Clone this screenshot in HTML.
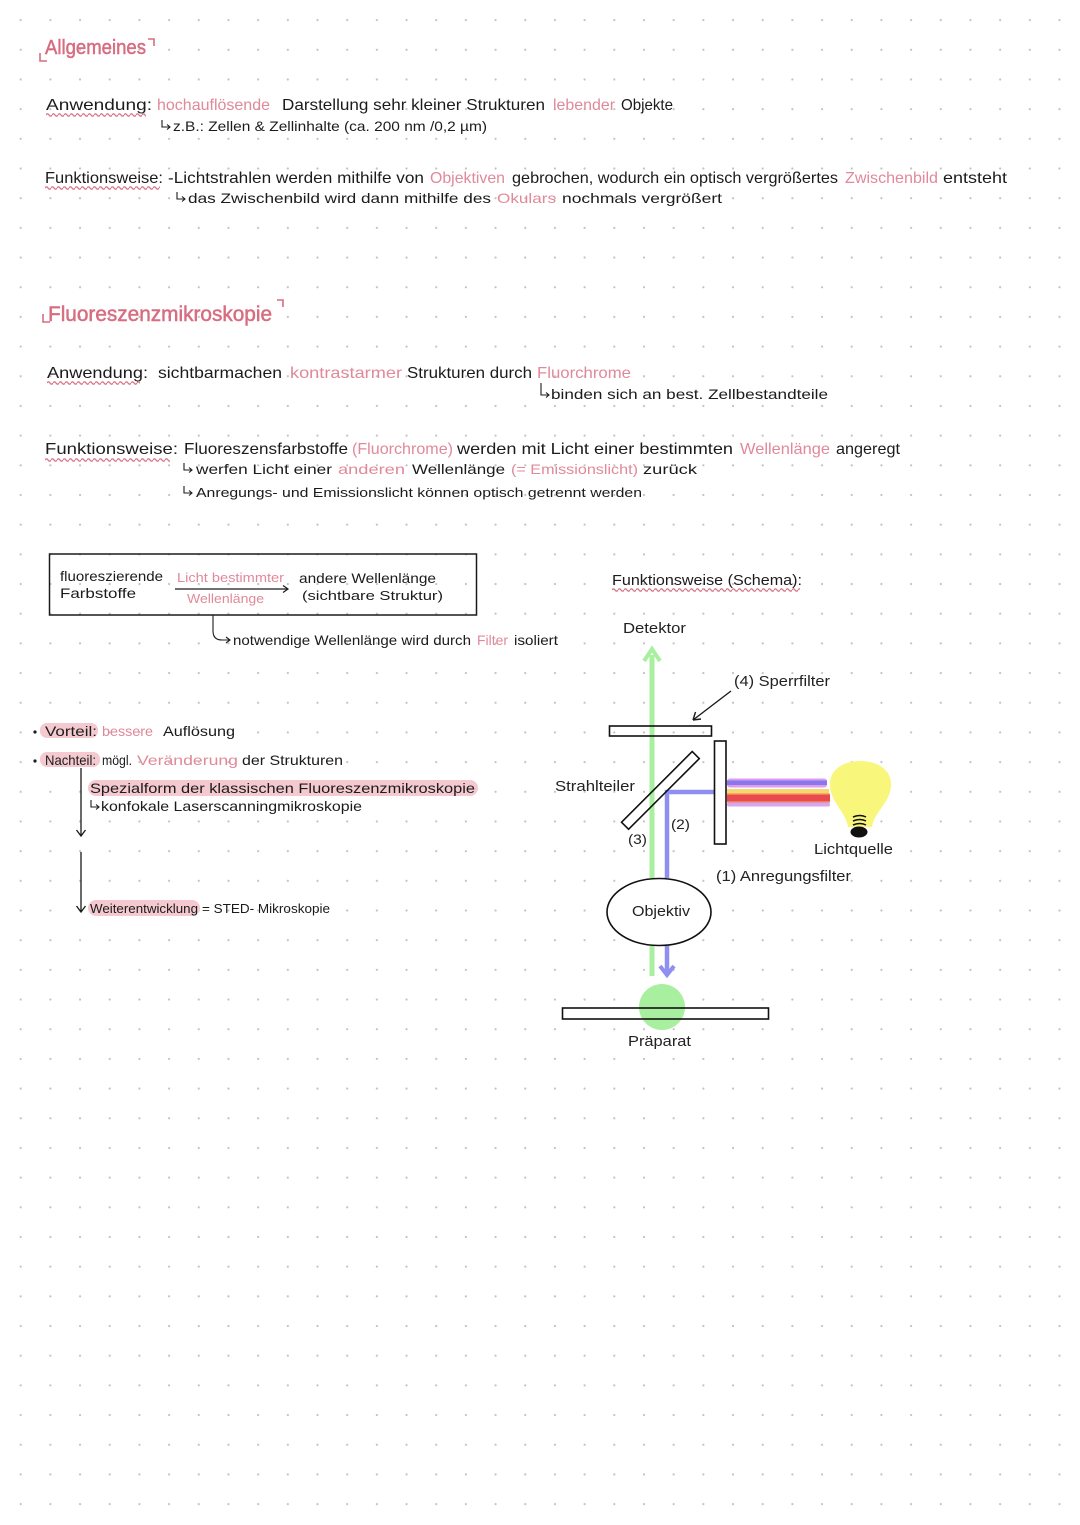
<!DOCTYPE html>
<html><head><meta charset="utf-8"><style>
html,body{margin:0;padding:0;background:#fff;}
svg{display:block;}
text{font-family:"Liberation Sans","DejaVu Sans",sans-serif;fill:#1b1b1b;}
.p{fill:#e0899a;}
.h{fill:#d76d80;stroke:#d76d80;stroke-width:0.5;}
.d{fill:#222;}
</style></head><body>
<svg width="1080" height="1525" viewBox="0 0 1080 1525" xmlns="http://www.w3.org/2000/svg">
<defs>
<pattern id="dots" patternUnits="userSpaceOnUse" x="5.86" y="5.26" width="29.68" height="29.68"><circle cx="14.84" cy="14.84" r="1.1" fill="#c2c2c2"/></pattern>
<pattern id="wave" patternUnits="userSpaceOnUse" x="0" y="0" width="6" height="6"><path d="M0 3 Q1.5 0.6 3 3 T6 3" stroke="#d9788a" stroke-width="1.3" fill="none"/></pattern>
<g id="hook"><path d="M0 0 V7 H8 M5 4.5 L8 7 L5 9.5" stroke="#1b1b1b" stroke-width="1.1" fill="none"/></g>
</defs>
<rect width="1080" height="1525" fill="#fff"/>
<rect width="1080" height="1525" fill="url(#dots)"/>

<!-- Allgemeines -->
<path d="M40 53 V61 H47" stroke="#d76d80" stroke-width="1.6" fill="none"/>
<path d="M148 39 H154 V46" stroke="#d76d80" stroke-width="1.6" fill="none"/>
<text x="45" y="54" font-size="20" class="h" textLength="101" lengthAdjust="spacingAndGlyphs">Allgemeines</text>

<text x="46" y="110" font-size="16" textLength="106" lengthAdjust="spacingAndGlyphs">Anwendung:</text>
<rect x="0" y="0" width="100" height="6" fill="url(#wave)" transform="translate(46,112)"/>
<text x="157" y="110" font-size="16" class="p" textLength="113" lengthAdjust="spacingAndGlyphs">hochauflösende</text>
<text x="282" y="110" font-size="16" textLength="263" lengthAdjust="spacingAndGlyphs">Darstellung sehr kleiner Strukturen</text>
<text x="553" y="110" font-size="16" class="p" textLength="62" lengthAdjust="spacingAndGlyphs">lebender</text>
<text x="621" y="110" font-size="16" textLength="52" lengthAdjust="spacingAndGlyphs">Objekte</text>

<use href="#hook" x="162" y="120"/>
<text x="173" y="131" font-size="14" textLength="314" lengthAdjust="spacingAndGlyphs">z.B.: Zellen &amp; Zellinhalte (ca. 200 nm /0,2 µm)</text>

<text x="45" y="183" font-size="16" textLength="118" lengthAdjust="spacingAndGlyphs">Funktionsweise:</text>
<rect x="0" y="0" width="115" height="6" fill="url(#wave)" transform="translate(45,185)"/>
<text x="168" y="183" font-size="16" textLength="256" lengthAdjust="spacingAndGlyphs">-Lichtstrahlen werden mithilfe von</text>
<text x="430" y="183" font-size="16" class="p" textLength="75" lengthAdjust="spacingAndGlyphs">Objektiven</text>
<text x="512" y="183" font-size="16" textLength="326" lengthAdjust="spacingAndGlyphs">gebrochen, wodurch ein optisch vergrößertes</text>
<text x="845" y="183" font-size="16" class="p" textLength="93" lengthAdjust="spacingAndGlyphs">Zwischenbild</text>
<text x="943" y="183" font-size="16" textLength="64" lengthAdjust="spacingAndGlyphs">entsteht</text>

<use href="#hook" x="177" y="192"/>
<text x="188" y="203" font-size="14" textLength="303" lengthAdjust="spacingAndGlyphs">das Zwischenbild wird dann mithilfe des</text>
<text x="497" y="203" font-size="14" class="p" textLength="59" lengthAdjust="spacingAndGlyphs">Okulars</text>
<text x="562" y="203" font-size="14" textLength="160" lengthAdjust="spacingAndGlyphs">nochmals vergrößert</text>

<!-- Fluoreszenzmikroskopie -->
<path d="M43 314 V322 H50" stroke="#d76d80" stroke-width="1.6" fill="none"/>
<path d="M277 300 H283 V307" stroke="#d76d80" stroke-width="1.6" fill="none"/>
<text x="48" y="321" font-size="21" class="h" textLength="224" lengthAdjust="spacingAndGlyphs">Fluoreszenzmikroskopie</text>

<text x="47" y="378" font-size="16" textLength="101" lengthAdjust="spacingAndGlyphs">Anwendung:</text>
<rect x="0" y="0" width="93" height="6" fill="url(#wave)" transform="translate(47,380)"/>
<text x="158" y="378" font-size="16" textLength="124" lengthAdjust="spacingAndGlyphs">sichtbarmachen</text>
<text x="290" y="378" font-size="16" class="p" textLength="112" lengthAdjust="spacingAndGlyphs">kontrastarmer</text>
<text x="407" y="378" font-size="16" textLength="125" lengthAdjust="spacingAndGlyphs">Strukturen durch</text>
<text x="537" y="378" font-size="16" class="p" textLength="94" lengthAdjust="spacingAndGlyphs">Fluorchrome</text>

<path d="M541 383 V395 H549 M546 392.5 L549 395 L546 397.5" stroke="#1b1b1b" stroke-width="1.1" fill="none"/>
<text x="551" y="399" font-size="14" textLength="277" lengthAdjust="spacingAndGlyphs">binden sich an best. Zellbestandteile</text>

<text x="45" y="454" font-size="16" textLength="133" lengthAdjust="spacingAndGlyphs">Funktionsweise:</text>
<rect x="0" y="0" width="125" height="6" fill="url(#wave)" transform="translate(45,457)"/>
<text x="184" y="454" font-size="16" textLength="164" lengthAdjust="spacingAndGlyphs">Fluoreszensfarbstoffe</text>
<text x="352" y="454" font-size="16" class="p" textLength="101" lengthAdjust="spacingAndGlyphs">(Fluorchrome)</text>
<text x="457" y="454" font-size="16" textLength="276" lengthAdjust="spacingAndGlyphs">werden mit Licht einer bestimmten</text>
<text x="740" y="454" font-size="16" class="p" textLength="90" lengthAdjust="spacingAndGlyphs">Wellenlänge</text>
<text x="836" y="454" font-size="16" textLength="64" lengthAdjust="spacingAndGlyphs">angeregt</text>

<use href="#hook" x="184" y="463"/>
<text x="196" y="474" font-size="14" textLength="136" lengthAdjust="spacingAndGlyphs">werfen Licht einer</text>
<text x="338" y="474" font-size="14" class="p" textLength="67" lengthAdjust="spacingAndGlyphs">anderen</text>
<text x="412" y="474" font-size="14" textLength="93" lengthAdjust="spacingAndGlyphs">Wellenlänge</text>
<text x="511" y="474" font-size="14" class="p" textLength="127" lengthAdjust="spacingAndGlyphs">(= Emissionslicht)</text>
<text x="643" y="474" font-size="14" textLength="54" lengthAdjust="spacingAndGlyphs">zurück</text>

<use href="#hook" x="184" y="486"/>
<text x="196" y="497" font-size="13" textLength="446" lengthAdjust="spacingAndGlyphs">Anregungs- und Emissionslicht können optisch getrennt werden</text>

<!-- Box -->
<rect x="49.5" y="554" width="427" height="61" fill="none" stroke="#1b1b1b" stroke-width="1.5"/>
<text x="60" y="581" font-size="14" textLength="103" lengthAdjust="spacingAndGlyphs">fluoreszierende</text>
<text x="60" y="598" font-size="14" textLength="76" lengthAdjust="spacingAndGlyphs">Farbstoffe</text>
<text x="177" y="582" font-size="13" class="p" textLength="107" lengthAdjust="spacingAndGlyphs">Licht bestimmter</text>
<path d="M175 589 H288 M283 585.5 L288 589 L283 592.5" stroke="#1b1b1b" stroke-width="1.2" fill="none"/>
<text x="187" y="603" font-size="13" class="p" textLength="77" lengthAdjust="spacingAndGlyphs">Wellenlänge</text>
<text x="299" y="583" font-size="14" textLength="137" lengthAdjust="spacingAndGlyphs">andere Wellenlänge</text>
<text x="302" y="600" font-size="13" textLength="141" lengthAdjust="spacingAndGlyphs">(sichtbare Struktur)</text>

<path d="M213 615 V631 Q213 640 222 640 H230 M226 637 L230 640 L226 643" stroke="#1b1b1b" stroke-width="1.1" fill="none"/>
<text x="233" y="645" font-size="14" textLength="238" lengthAdjust="spacingAndGlyphs">notwendige Wellenlänge wird durch</text>
<text x="477" y="645" font-size="14" class="p" textLength="31" lengthAdjust="spacingAndGlyphs">Filter</text>
<text x="514" y="645" font-size="14" textLength="44" lengthAdjust="spacingAndGlyphs">isoliert</text>

<!-- Vorteil / Nachteil -->
<rect x="40" y="723" width="58" height="15" rx="7" fill="#f4c9d0"/>
<rect x="40" y="752" width="60" height="15" rx="7" fill="#f4c9d0"/>
<circle cx="35" cy="732" r="1.6" fill="#1b1b1b"/>
<circle cx="35" cy="761" r="1.6" fill="#1b1b1b"/>
<text x="45" y="736" font-size="14" textLength="52" lengthAdjust="spacingAndGlyphs">Vorteil:</text>
<text x="102" y="736" font-size="14" class="p" textLength="51" lengthAdjust="spacingAndGlyphs">bessere</text>
<text x="163" y="736" font-size="14" textLength="72" lengthAdjust="spacingAndGlyphs">Auflösung</text>
<text x="45" y="765" font-size="14" textLength="51" lengthAdjust="spacingAndGlyphs">Nachteil:</text>
<text x="102" y="765" font-size="14" textLength="30" lengthAdjust="spacingAndGlyphs">mögl.</text>
<text x="137" y="765" font-size="14" class="p" textLength="101" lengthAdjust="spacingAndGlyphs">Veränderung</text>
<text x="242" y="765" font-size="14" textLength="101" lengthAdjust="spacingAndGlyphs">der Strukturen</text>

<path d="M81 768 V836 M76.5 830 L81 836 L85.5 830" stroke="#1b1b1b" stroke-width="1.3" fill="none"/>
<rect x="88" y="780" width="390" height="16" rx="8" fill="#f4c9d0"/>
<text x="90" y="793" font-size="14" textLength="385" lengthAdjust="spacingAndGlyphs">Spezialform der klassischen Fluoreszenzmikroskopie</text>
<use href="#hook" x="91" y="800"/>
<text x="101" y="811" font-size="14" textLength="261" lengthAdjust="spacingAndGlyphs">konfokale Laserscanningmikroskopie</text>

<path d="M81 852 V912 M76.5 906 L81 912 L85.5 906" stroke="#1b1b1b" stroke-width="1.3" fill="none"/>
<rect x="88" y="900" width="112" height="16" rx="8" fill="#f4c9d0"/>
<text x="90" y="913" font-size="13" textLength="108" lengthAdjust="spacingAndGlyphs">Weiterentwicklung</text>
<text x="202" y="913" font-size="13" textLength="128" lengthAdjust="spacingAndGlyphs">= STED- Mikroskopie</text>

<!-- Schema -->
<text x="612" y="585" font-size="15" textLength="190" lengthAdjust="spacingAndGlyphs">Funktionsweise (Schema):</text>
<rect x="0" y="0" width="188" height="6" fill="url(#wave)" transform="translate(612,587)"/>

<text x="623" y="633" font-size="15" class="d" textLength="63" lengthAdjust="spacingAndGlyphs">Detektor</text>
<text x="734" y="686" font-size="15" class="d" textLength="96" lengthAdjust="spacingAndGlyphs">(4) Sperrfilter</text>
<path d="M731 691 L693 720 M693 720 L695.5 712 M693 720 L701 719" stroke="#1b1b1b" stroke-width="1.4" fill="none"/>
<text x="555" y="791" font-size="15" class="d" textLength="80" lengthAdjust="spacingAndGlyphs">Strahlteiler</text>

<!-- beams -->
<rect x="727" y="778.5" width="100" height="9" rx="3" fill="#dc9cf0"/>
<rect x="727" y="780.5" width="100" height="4.5" fill="#8a78ea"/>
<rect x="727" y="789" width="102" height="4.5" fill="#f7d870"/>
<rect x="727" y="793.5" width="103" height="9" fill="#f08050"/>
<rect x="727" y="795" width="103" height="6" fill="#e84a50"/>
<rect x="727" y="802.5" width="103" height="4" rx="2" fill="#d6a6f2"/>

<!-- bulb -->
<path d="M848 827 C846 812 831 803 830 786 C829 770 843 761 860 761 C878 761 892 770 891 786 C890 803 874 812 872 827 Z" fill="#f9f67c"/>
<path d="M853 817 Q860 814 866 817 M853 821 Q860 818 866 821 M853 825 Q860 822 866 825" stroke="#111" stroke-width="1.5" fill="none"/>
<ellipse cx="859" cy="832" rx="8.5" ry="5.5" fill="#111"/>
<text x="814" y="854" font-size="15" class="d" textLength="79" lengthAdjust="spacingAndGlyphs">Lichtquelle</text>
<text x="716" y="881" font-size="15" class="d" textLength="135" lengthAdjust="spacingAndGlyphs">(1) Anregungsfilter</text>

<!-- green & blue light -->
<path d="M652 655 V878 M652 946 V976" stroke="#a8ef9f" stroke-width="5" fill="none"/>
<path d="M644 661 L652 649 L660 661" stroke="#a8ef9f" stroke-width="4" fill="none"/>
<path d="M714 792 H667 V878 M667 946 V973" stroke="#8f8ff2" stroke-width="4.5" fill="none"/>
<path d="M660 966 L667 975 L674 966" stroke="#8f8ff2" stroke-width="4" fill="none"/>

<!-- optics -->
<rect x="609.5" y="726" width="102" height="10" fill="none" stroke="#111" stroke-width="1.6"/>
<rect x="714.5" y="741" width="11.5" height="103" fill="none" stroke="#111" stroke-width="1.6"/>
<rect x="610.4" y="785.4" width="100" height="10" fill="none" stroke="#111" stroke-width="1.6" transform="rotate(-45 660.4 790.4)"/>
<text x="671" y="829" font-size="14" class="d" textLength="19" lengthAdjust="spacingAndGlyphs">(2)</text>
<text x="628" y="844" font-size="14" class="d" textLength="19" lengthAdjust="spacingAndGlyphs">(3)</text>

<ellipse cx="659" cy="912" rx="52" ry="33.5" fill="#fff" stroke="#111" stroke-width="1.6"/>
<text x="632" y="916" font-size="15" class="d" textLength="58" lengthAdjust="spacingAndGlyphs">Objektiv</text>

<circle cx="662" cy="1007" r="23" fill="#a8ef9f"/>
<rect x="562.5" y="1008" width="206" height="11" fill="none" stroke="#111" stroke-width="1.6"/>
<text x="628" y="1046" font-size="15" class="d" textLength="63" lengthAdjust="spacingAndGlyphs">Präparat</text>
</svg>
</body></html>
